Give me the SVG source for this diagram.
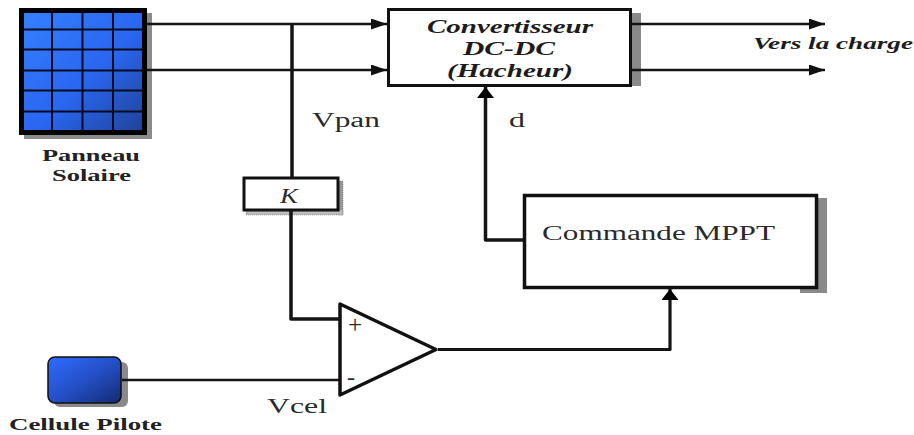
<svg xmlns="http://www.w3.org/2000/svg" width="914" height="435" viewBox="0 0 914 435">
<style>
.w{fill:none;stroke:#141414;stroke-linecap:butt;stroke-linejoin:round}
.t{font-family:"Liberation Serif",serif;fill:#2a2a2a}
.b{font-weight:bold;font-size:16px;fill:#222}
.i{font-style:italic;font-weight:bold;fill:#1c1c1c}
.sh{fill:#8a8a8a}
.cell{stroke:#060b1c;stroke-width:2}
</style>
<defs>
<linearGradient id="g1" x1="0" y1="0" x2="1" y2="1"><stop offset="0" stop-color="#3580ff"/><stop offset=".55" stop-color="#2a66f0"/><stop offset="1" stop-color="#1f4296"/></linearGradient>
<linearGradient id="g2" x1="0" y1="0" x2="1" y2="1"><stop offset="0" stop-color="#2f6cff"/><stop offset=".5" stop-color="#2450c8"/><stop offset="1" stop-color="#142a70"/></linearGradient>
<marker id="a" markerUnits="userSpaceOnUse" markerWidth="17" markerHeight="12" refX="16" refY="5.500" orient="auto"><path d="M0 0L16 5.500L0 11Z" fill="#111"/></marker>
<marker id="u" markerUnits="userSpaceOnUse" markerWidth="12" markerHeight="18" refX="11" refY="8.500" orient="auto"><path d="M0 0L11 8.500L0 17Z" fill="#000"/></marker>
</defs>
<g id="panneau">
<rect x="24" y="13" width="128" height="126" class="sh"/>
<rect x="21.500" y="10.500" width="123" height="122" fill="url(#g1)" stroke="#000" stroke-width="5"/>
<path class="cell" d="M52 10V132M82.500 10V132M113 10V132M21 29.500H144M21 49.500H144M21 70.500H144M21 90.500H144M21 111.500H144"/>
<text class="t b" x="42" y="161" textLength="98" lengthAdjust="spacingAndGlyphs">Panneau</text>
<text class="t b" x="52" y="181" textLength="79" lengthAdjust="spacingAndGlyphs">Solaire</text>
</g>
<g id="convertisseur">
<rect x="631" y="13" width="10" height="73" class="sh"/>
<rect x="388.500" y="9.500" width="242" height="76" fill="#fff" stroke="#111" stroke-width="3"/>
<text class="t i" x="427" y="33" font-size="19" textLength="166" lengthAdjust="spacingAndGlyphs">Convertisseur</text>
<text class="t i" x="463" y="55" font-size="19" textLength="92" lengthAdjust="spacingAndGlyphs">DC-DC</text>
<text class="t i" x="447" y="77" font-size="19" textLength="126" lengthAdjust="spacingAndGlyphs">(Hacheur)</text>
</g>
<g id="gain">
<rect x="338" y="181" width="5" height="34" fill="#999" stroke="#666" stroke-width=".5" stroke-dasharray="1 1"/>
<rect x="246" y="210" width="97" height="5" fill="#bbb" stroke="#666" stroke-width=".5" stroke-dasharray="1 1"/>
<rect x="244" y="178" width="94" height="32" fill="#fff" stroke="#111" stroke-width="3"/>
<text class="t" x="280" y="203" font-style="italic" font-size="20" textLength="18" lengthAdjust="spacingAndGlyphs" fill="#333">K</text>
</g>
<g id="commande">
<rect x="817" y="198" width="10" height="95" class="sh"/>
<rect x="800" y="287" width="27" height="6" class="sh"/>
<rect x="524.500" y="195.500" width="292" height="92" fill="#fff" stroke="#111" stroke-width="3.500"/>
<text class="t" x="542" y="240" font-size="20" textLength="233" lengthAdjust="spacingAndGlyphs">Commande MPPT</text>
</g>
<g id="comparateur">
<path d="M340 304L436 349.500L340 395Z" fill="#fff" stroke="#111" stroke-width="3.500" stroke-linejoin="round"/>
<text class="t" x="355" y="333" font-size="25" text-anchor="middle">+</text>
<text class="t" x="351" y="385" font-size="24" text-anchor="middle">-</text>
</g>
<g id="cellule">
<rect x="54" y="362" width="74" height="45" rx="6" class="sh"/>
<rect x="48" y="357" width="73" height="46" rx="7" fill="url(#g2)" stroke="#111" stroke-width="1.500"/>
<text class="t b" x="9" y="430" textLength="153" lengthAdjust="spacingAndGlyphs">Cellule Pilote</text>
</g>
<g id="connecteurs">
<path class="w" stroke-width="2.500" d="M147 24H387" marker-end="url(#a)"/>
<path class="w" stroke-width="2.500" d="M147 70H387" marker-end="url(#a)"/>
<path class="w" stroke-width="3.500" d="M292 24V177M291 211V319H339"/>
<path class="w" stroke-width="2.500" d="M122 380H339"/>
<path class="w" stroke-width="3.200" d="M438 349.500H670V289" marker-end="url(#u)"/>
<path class="w" stroke-width="3.500" d="M523 240H485.500V87" marker-end="url(#u)"/>
<path class="w" stroke-width="2.500" d="M632 24H825" marker-end="url(#a)"/>
<path class="w" stroke-width="2.500" d="M632 70H825" marker-end="url(#a)"/>
</g>
<g id="labels">
<text class="t i" x="753" y="49" font-size="16" textLength="160" lengthAdjust="spacingAndGlyphs">Vers la charge</text>
<text class="t" x="312" y="127" font-size="20" textLength="68" lengthAdjust="spacingAndGlyphs">Vpan</text>
<text class="t" x="509" y="127" font-size="20" textLength="16" lengthAdjust="spacingAndGlyphs">d</text>
<text class="t" x="267" y="413" font-size="20" textLength="60" lengthAdjust="spacingAndGlyphs">Vcel</text>
</g>
</svg>
